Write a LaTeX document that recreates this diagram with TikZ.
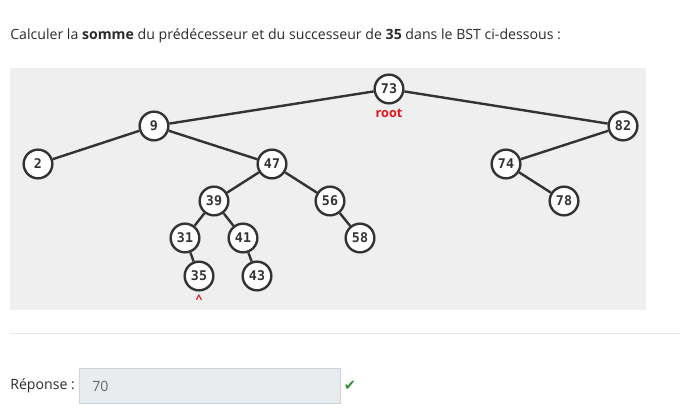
\documentclass[tikz,border=0pt]{standalone}
\usepackage{fontspec}
\setmainfont{Open Sans}
\newfontfamily\keyfont{DejaVu Sans Mono}
\newfontfamily\symfont{DejaVu Sans}
\usetikzlibrary{positioning}
\definecolor{panel}{HTML}{EFEFEF}
\definecolor{ink}{HTML}{333333}
\definecolor{txt}{HTML}{2B2B2B}
\definecolor{mark}{HTML}{E0151B}
\definecolor{field}{HTML}{E9ECEF}
\definecolor{fieldline}{HTML}{CED4DA}
\definecolor{okgreen}{HTML}{3C8A3C}
\tikzset{
  key/.style={circle, draw=ink, line width=1.8pt, fill=white, minimum size=21.5pt,
    inner sep=0pt, font=\keyfont\bfseries\fontsize{10}{11}\selectfont, text=ink},
  edge/.style={draw=ink, line width=1.8pt},
  tag/.style={font=\bfseries\fontsize{9.5}{10}\selectfont, text=mark},
  plain/.style={font=\fontsize{10.6}{12}\selectfont, text=txt, inner sep=0pt},
}

\begin{document}
\begin{tikzpicture}[x=0.75pt, y=-0.75pt]
  \useasboundingbox (0,0) rectangle (680,417);
  \node[plain, anchor=west] (question) at (10,36)
    {Calculer la \textbf{somme} du prédécesseur et du successeur de \textbf{35} dans le BST ci-dessous :};
  \fill[panel] (10,68) rectangle (646,310);
  % tree nodes
  \node[key] (n73) at (389,89) {73};
  \node[key] (n9)  at (154,126) {9};
  \node[key] (n82) at (623,126) {82};
  \node[key] (n2)  at (38,164) {2};
  \node[key] (n47) at (272,164) {47};
  \node[key] (n74) at (506,164) {74};
  \node[key] (n39) at (214,201) {39};
  \node[key] (n56) at (330,201) {56};
  \node[key] (n78) at (564,201) {78};
  \node[key] (n31) at (185,238) {31};
  \node[key] (n41) at (243,238) {41};
  \node[key] (n58) at (360,238) {58};
  \node[key] (n35) at (199,276) {35};
  \node[key] (n43) at (257,276) {43};
  \node[tag] (rootlbl) at (389,113) {root};
  \node[tag, font=\bfseries\fontsize{9}{10}\selectfont] (caret) at (199,299) {\textasciicircum};
  % tree edges
  \draw[edge] (n73) -- (n9);
  \draw[edge] (n73) -- (n82);
  \draw[edge] (n9)  -- (n2);
  \draw[edge] (n9)  -- (n47);
  \draw[edge] (n47) -- (n39);
  \draw[edge] (n47) -- (n56);
  \draw[edge] (n39) -- (n31);
  \draw[edge] (n39) -- (n41);
  \draw[edge] (n31) -- (n35);
  \draw[edge] (n41) -- (n43);
  \draw[edge] (n56) -- (n58);
  \draw[edge] (n82) -- (n74);
  \draw[edge] (n74) -- (n78);
  % answer
  \draw[black!10, line width=0.75pt] (10,333) -- (680,333);
  \node[plain, anchor=west] (answerlbl) at (10,386) {Réponse :};
  \node[draw=fieldline, fill=field, line width=0.75pt, minimum width=261*0.75pt,
    minimum height=35*0.75pt, inner sep=0pt, anchor=west] (answerbox) at (79,386) {};
  \node[plain, anchor=west, text=black!60] (answerval) at (92,386) {70};
  \node[font=\symfont\fontsize{11}{12}\selectfont, text=okgreen] (okmark) at (350,386) {✔};
\end{tikzpicture}
\end{document}
